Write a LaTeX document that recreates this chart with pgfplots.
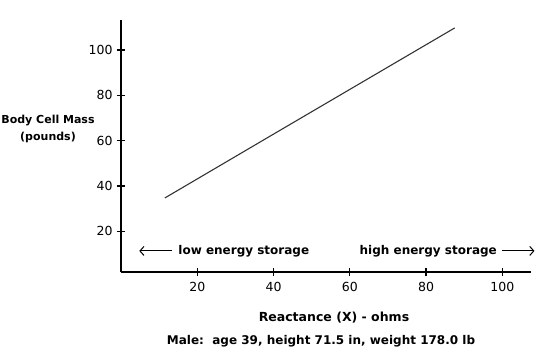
\documentclass[border=0pt]{standalone}
\usepackage{pgfplots}
\pgfplotsset{compat=1.18}
\usetikzlibrary{arrows.meta}
\usepackage{fontspec}
\setmainfont{DejaVu Sans}
\begin{document}
\begin{tikzpicture}
\useasboundingbox (-121pt,-85pt) rectangle (429pt,272pt);
\begin{axis}[
  at={(0,0)}, anchor=south west,
  scale only axis, width=410pt, height=252pt,
  xmin=0, xmax=107.5, ymin=2, ymax=113.3,
  axis lines=left, axis line style={line width=1.5pt, -},
  xtick={20,40,60,80,100}, ytick={20,40,60,80,100},
  tick align=center, major tick length=8pt,
  major tick style={line width=1.3pt, black},
  every tick label/.append style={font=\fontsize{12.5}{12}\selectfont},
  /pgf/number format/assume math mode=true,
  xticklabel style={yshift=-3pt},
  yticklabel style={xshift=-1pt},
  clip=false,
]
\addplot[line width=1.1pt, black!80] coordinates {(11.5,34.7) (40.4,63.3) (87.5,109.8)};
\draw[line width=1pt, {Straight Barb[length=4pt,width=9pt]}-] (axis cs:4.8,11.3) -- (axis cs:13.4,11.3);
\node[anchor=west, inner sep=0pt, font=\fontsize{12}{12}\selectfont\bfseries] at (axis cs:15,11.3) {low energy storage};
\node[anchor=east, inner sep=0pt, font=\fontsize{12}{12}\selectfont\bfseries] at (axis cs:98.6,11.3) {high energy storage};
\draw[line width=1pt, -{Straight Barb[length=4pt,width=9pt]}] (axis cs:99.9,11.3) -- (axis cs:108.4,11.3);
\end{axis}
\node[align=center, font=\fontsize{11}{17}\selectfont\bfseries] at (-73pt,143pt) {Body Cell Mass\\(pounds)};
\node[font=\fontsize{12.5}{12}\selectfont\bfseries] at (213pt,-46pt) {Reactance (X) - ohms};
\node[font=\fontsize{12}{12}\selectfont\bfseries] at (200pt,-69pt) {Male:\ \ age 39, height 71.5 in, weight 178.0 lb};
\end{tikzpicture}
\end{document}
